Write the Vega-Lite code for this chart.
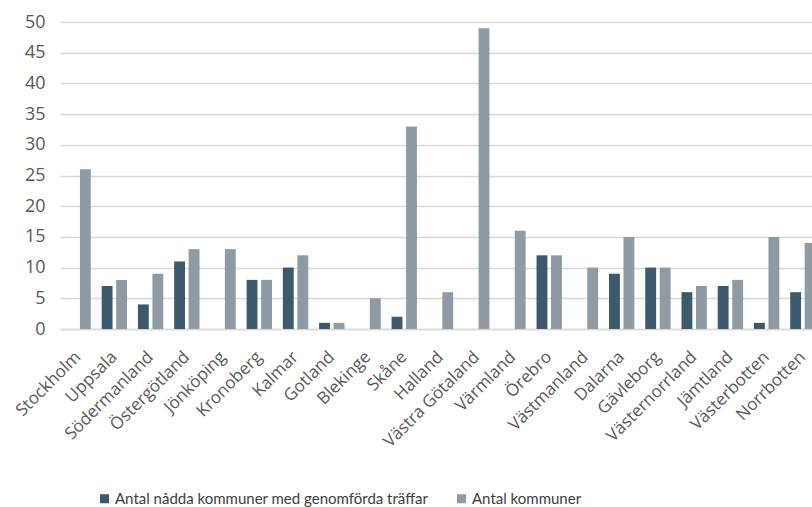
{
  "$schema": "https://vega.github.io/schema/vega-lite/v6.json",
  "autosize": {"type": "none"},
  "width": 752,
  "height": 307,
  "padding": {"left": 60, "top": 22, "right": 0, "bottom": 178},
  "background": "white",
  "config": {
    "view": {"stroke": null},
    "font": "Open Sans"
  },
  "data": {
    "values": [
      {"region": "Stockholm", "serie": "Antal nådda kommuner med genomförda träffar", "value": 0},
      {"region": "Stockholm", "serie": "Antal kommuner", "value": 26},
      {"region": "Uppsala", "serie": "Antal nådda kommuner med genomförda träffar", "value": 7},
      {"region": "Uppsala", "serie": "Antal kommuner", "value": 8},
      {"region": "Södermanland", "serie": "Antal nådda kommuner med genomförda träffar", "value": 4},
      {"region": "Södermanland", "serie": "Antal kommuner", "value": 9},
      {"region": "Östergötland", "serie": "Antal nådda kommuner med genomförda träffar", "value": 11},
      {"region": "Östergötland", "serie": "Antal kommuner", "value": 13},
      {"region": "Jönköping", "serie": "Antal nådda kommuner med genomförda träffar", "value": 0},
      {"region": "Jönköping", "serie": "Antal kommuner", "value": 13},
      {"region": "Kronoberg", "serie": "Antal nådda kommuner med genomförda träffar", "value": 8},
      {"region": "Kronoberg", "serie": "Antal kommuner", "value": 8},
      {"region": "Kalmar", "serie": "Antal nådda kommuner med genomförda träffar", "value": 10},
      {"region": "Kalmar", "serie": "Antal kommuner", "value": 12},
      {"region": "Gotland", "serie": "Antal nådda kommuner med genomförda träffar", "value": 1},
      {"region": "Gotland", "serie": "Antal kommuner", "value": 1},
      {"region": "Blekinge", "serie": "Antal nådda kommuner med genomförda träffar", "value": 0},
      {"region": "Blekinge", "serie": "Antal kommuner", "value": 5},
      {"region": "Skåne", "serie": "Antal nådda kommuner med genomförda träffar", "value": 2},
      {"region": "Skåne", "serie": "Antal kommuner", "value": 33},
      {"region": "Halland", "serie": "Antal nådda kommuner med genomförda träffar", "value": 0},
      {"region": "Halland", "serie": "Antal kommuner", "value": 6},
      {"region": "Västra Götaland", "serie": "Antal nådda kommuner med genomförda träffar", "value": 0},
      {"region": "Västra Götaland", "serie": "Antal kommuner", "value": 49},
      {"region": "Värmland", "serie": "Antal nådda kommuner med genomförda träffar", "value": 0},
      {"region": "Värmland", "serie": "Antal kommuner", "value": 16},
      {"region": "Örebro", "serie": "Antal nådda kommuner med genomförda träffar", "value": 12},
      {"region": "Örebro", "serie": "Antal kommuner", "value": 12},
      {"region": "Västmanland", "serie": "Antal nådda kommuner med genomförda träffar", "value": 0},
      {"region": "Västmanland", "serie": "Antal kommuner", "value": 10},
      {"region": "Dalarna", "serie": "Antal nådda kommuner med genomförda träffar", "value": 9},
      {"region": "Dalarna", "serie": "Antal kommuner", "value": 15},
      {"region": "Gävleborg", "serie": "Antal nådda kommuner med genomförda träffar", "value": 10},
      {"region": "Gävleborg", "serie": "Antal kommuner", "value": 10},
      {"region": "Västernorrland", "serie": "Antal nådda kommuner med genomförda träffar", "value": 6},
      {"region": "Västernorrland", "serie": "Antal kommuner", "value": 7},
      {"region": "Jämtland", "serie": "Antal nådda kommuner med genomförda träffar", "value": 7},
      {"region": "Jämtland", "serie": "Antal kommuner", "value": 8},
      {"region": "Västerbotten", "serie": "Antal nådda kommuner med genomförda träffar", "value": 1},
      {"region": "Västerbotten", "serie": "Antal kommuner", "value": 15},
      {"region": "Norrbotten", "serie": "Antal nådda kommuner med genomförda träffar", "value": 6},
      {"region": "Norrbotten", "serie": "Antal kommuner", "value": 14}
    ]
  },
  "mark": {"type": "bar"},
  "encoding": {
    "x": {
      "field": "region",
      "type": "nominal",
      "sort": null,
      "scale": {"range": [0, 761], "paddingInner": 0.3, "paddingOuter": 0.15},
      "axis": {
        "title": null,
        "labelAngle": -45,
        "labelAlign": "right",
        "labelBaseline": "middle",
        "labelFontSize": 17,
        "labelColor": "#595959",
        "labelPadding": 25,
        "ticks": false,
        "domainColor": "#d9d9d9",
        "domainWidth": 1.5,
        "labelOverlap": false,
        "labelBound": false
      }
    },
    "xOffset": {
      "field": "serie",
      "type": "nominal",
      "sort": ["Antal nådda kommuner med genomförda träffar", "Antal kommuner"],
      "scale": {"paddingInner": 0.25, "paddingOuter": 0}
    },
    "y": {
      "field": "value",
      "type": "quantitative",
      "scale": {"domain": [0, 50], "nice": false},
      "axis": {
        "title": null,
        "values": [0, 5, 10, 15, 20, 25, 30, 35, 40, 45, 50],
        "labelFontSize": 18,
        "labelColor": "#595959",
        "labelPadding": 15,
        "ticks": false,
        "domain": false,
        "gridColor": "#d9d9d9",
        "gridWidth": 1.5
      }
    },
    "color": {
      "field": "serie",
      "type": "nominal",
      "scale": {
        "domain": ["Antal nådda kommuner med genomförda träffar", "Antal kommuner"],
        "range": ["#3d5a6c", "#8e9ba5"]
      },
      "legend": {
        "title": null,
        "orient": "none",
        "direction": "horizontal",
        "legendX": 37,
        "legendY": 469,
        "symbolType": "square",
        "symbolSize": 81,
        "symbolStrokeWidth": 0,
        "labelFont": "Lato",
        "labelFontSize": 15,
        "labelColor": "#404040",
        "labelLimit": 400,
        "columnPadding": 25,
        "symbolOffset": 0,
        "labelOffset": 3
      }
    }
  }
}
